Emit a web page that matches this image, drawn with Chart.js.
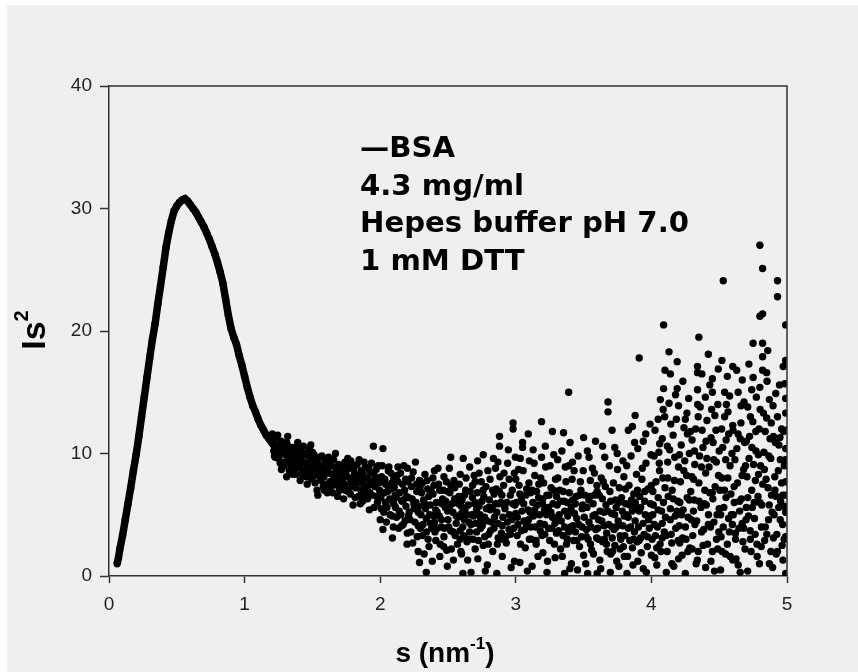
<!DOCTYPE html>
<html>
<head>
<meta charset="utf-8">
<script src="https://cdn.jsdelivr.net/npm/chart.js@4"></script>
<style>
  body { margin: 0; background: #fff; }
  canvas { position: absolute; left: 0; top: 0; }
</style>
</head>
<body>
<canvas id="kratky" width="858" height="672"></canvas>
<script>
// axis ticks
const xTicks = [0, 1, 2, 3, 4, 5];
const yTicks = [0, 10, 20, 30, 40];

const noteLines = ["\u2014BSA", "4.3 mg/ml", "Hepes buffer pH 7.0", "1 mM DTT"];

// smooth part of the curve, s (nm-1) vs Is^2
const curvePoints = [
  [0.06,1.0],[0.07,1.5],[0.08,2.2],[0.10,3.3],[0.12,4.6],[0.14,5.9],[0.16,7.2],[0.18,8.6],
  [0.20,9.9],[0.22,11.4],[0.24,13.0],[0.26,14.6],[0.28,16.2],[0.30,17.8],[0.32,19.3],[0.34,20.6],
  [0.36,22.2],[0.38,23.7],[0.40,25.2],[0.42,26.8],[0.44,28.0],[0.46,29.0],[0.48,29.8],[0.50,30.2],
  [0.52,30.5],[0.54,30.7],[0.56,30.8],[0.58,30.6],[0.60,30.3],[0.62,30.0],[0.64,29.7],[0.66,29.3],
  [0.68,28.9],[0.70,28.5],[0.72,28.0],[0.74,27.5],[0.76,26.9],[0.78,26.3],[0.80,25.6],[0.82,24.8],
  [0.84,23.9],[0.86,22.6],[0.88,21.3],[0.90,20.2],[0.92,19.5],[0.94,18.9],[0.96,18.0],[0.98,17.2],
  [1.00,16.3],[1.02,15.4],[1.04,14.6],[1.06,13.9],[1.08,13.4],[1.10,12.8],[1.12,12.3],[1.14,11.9],
  [1.16,11.5],[1.18,11.2],[1.20,10.9],[1.22,10.6],[1.24,10.3]
];

// noisy band 1.2 - 2.0
const bandPoints = [
  [1.21,10.9],[1.22,9.8],[1.23,11.3],[1.24,10.1],[1.25,9.6],[1.26,10.8],[1.27,11.0],[1.28,9.3],[1.29,10.4],
  [1.30,9.9],[1.31,8.1],[1.31,10.9],[1.32,9.5],[1.33,8.6],[1.34,10.2],[1.35,9.1],[1.36,10.5],[1.37,9.7],
  [1.38,8.3],[1.39,9.9],[1.40,10.5],[1.41,7.8],[1.41,8.9],[1.42,9.4],[1.43,8.2],[1.44,10.0],[1.45,9.2],
  [1.46,8.7],[1.47,9.8],[1.48,8.4],[1.49,9.5],[1.50,10.1],
  [1.51,8.8],[1.52,9.6],[1.52,7.6],[1.53,8.3],[1.54,6.6],[1.55,9.1],[1.56,8.0],[1.57,9.8],[1.58,7.3],
  [1.59,8.6],[1.60,9.3],[1.61,6.8],[1.62,8.4],[1.63,7.7],[1.64,9.0],[1.65,6.8],[1.66,8.1],[1.67,10.0],
  [1.68,7.4],[1.69,8.8],[1.70,7.0],[1.71,8.5],[1.72,7.8],[1.73,6.3],[1.74,9.3],[1.75,8.2],[1.76,7.1],
  [1.77,8.9],[1.78,6.7],[1.79,7.9],[1.80,5.8],[1.81,8.4],[1.82,7.2],[1.83,9.1],[1.84,6.5],[1.85,7.7],
  [1.86,8.6],[1.87,6.1],[1.88,7.4],[1.89,8.9],[1.90,6.9],[1.91,7.9],[1.92,5.4],[1.93,8.4],[1.94,6.6],
  [1.95,10.6],[1.96,7.3],[1.97,8.7],[1.98,6.0],[1.99,7.6],[2.00,4.6],
  [1.205,11.6],[1.215,10.2],[1.226,9.7],[1.233,10.6],[1.244,11.5],[1.252,10.3],[1.263,9.2],[1.271,10.0],
  [1.284,10.7],[1.292,9.0],[1.303,10.3],[1.315,9.3],[1.322,10.6],[1.336,9.8],[1.347,8.9],[1.353,10.0],
  [1.365,9.4],[1.372,8.7],[1.384,10.2],[1.395,9.0],[1.404,9.6],[1.416,10.3],[1.425,8.6],[1.437,9.3],
  [1.446,9.9],[1.455,8.1],[1.467,9.0],[1.476,10.4],[1.485,8.9],[1.494,7.9],
  [1.503,9.0],[1.515,8.2],[1.526,9.2],[1.534,7.0],[1.546,8.6],[1.555,9.7],[1.564,7.8],[1.573,8.9],
  [1.585,8.1],[1.594,9.5],[1.606,7.5],[1.614,8.7],[1.625,9.2],[1.633,7.2],[1.645,8.3],[1.656,9.5],
  [1.664,7.9],[1.675,8.6],[1.686,6.5],[1.694,9.1],
  [1.705,8.0],[1.716,7.4],[1.724,9.0],[1.735,8.1],[1.743,7.0],[1.756,8.7],[1.764,6.9],[1.775,8.0],
  [1.783,9.4],[1.796,7.3],[1.804,8.7],[1.815,6.4],[1.826,8.0],[1.834,7.6],[1.845,9.5],[1.853,5.9],
  [1.866,7.9],[1.874,8.3],[1.885,6.6],[1.896,8.0],
  [1.904,7.2],[1.915,8.7],[1.923,6.8],[1.936,9.2],[1.944,7.7],[1.955,5.6],[1.963,8.1],[1.974,6.5],
  [1.986,9.0],[1.995,7.0],
  [1.512,9.9],[1.538,8.9],[1.561,8.5],[1.588,7.0],[1.619,9.7],[1.641,7.6],[1.668,8.4],[1.692,7.7],
  [1.718,8.8],[1.739,7.5],[1.761,9.6],[1.788,7.6],[1.811,9.0],[1.839,8.1],[1.858,7.0],[1.881,9.3],
  [1.907,6.3],[1.929,7.5],[1.951,8.4],[1.978,7.9],[1.272,8.7],[1.318,11.4],[1.356,8.3],[1.392,10.9],
  [1.433,10.6],[1.462,7.5],[1.488,10.7]
];

// scattered tail 2.0 - 5.0
const tailPoints = [
  [2.01,8.1],[2.02,10.4],[2.02,3.8],[2.03,6.8],[2.04,7.5],[2.05,5.6],[2.06,8.6],[2.07,6.3],[2.08,7.1],
  [2.09,3.1],[2.10,5.9],[2.10,8.0],[2.11,6.6],[2.12,4.8],[2.13,7.7],[2.14,5.3],[2.15,8.4],[2.16,6.1],
  [2.17,4.2],[2.18,7.0],[2.19,5.7],[2.20,3.5],[2.20,8.8],[2.21,6.4],[2.22,4.6],[2.23,7.3],[2.24,2.7],
  [2.25,5.5],[2.26,9.3],[2.27,6.9],[2.28,2.0],[2.28,4.1],[2.29,1.1],[2.29,7.8],[2.30,5.0],
  [2.31,3.3],[2.32,6.2],[2.33,8.3],[2.34,0.3],[2.34,4.7],[2.35,7.1],[2.36,2.4],[2.37,5.8],[2.38,3.9],
  [2.39,6.7],[2.40,8.6],[2.40,4.4],[2.41,2.9],[2.42,5.2],[2.43,7.5],[2.44,1.6],[2.45,4.0],[2.46,6.3],
  [2.47,8.1],[2.47,3.2],[2.48,5.6],[2.49,2.1],[2.50,6.9],[2.50,4.6],
  [2.51,8.8],[2.52,9.7],[2.52,3.7],[2.53,5.9],[2.54,1.3],[2.55,7.2],[2.56,4.3],[2.57,2.6],[2.58,6.5],
  [2.59,8.3],[2.59,3.0],[2.60,5.1],[2.60,1.8],[2.61,0.2],[2.62,4.6],[2.63,7.0],[2.64,2.8],[2.65,5.8],
  [2.66,8.9],[2.66,3.6],[2.67,0.3],[2.68,6.4],[2.69,4.9],[2.70,2.2],[2.70,7.7],
  [2.71,5.4],[2.72,1.4],[2.73,8.4],[2.74,3.9],[2.75,6.1],[2.76,9.9],[2.76,2.5],[2.77,4.8],[2.78,7.3],
  [2.79,0.9],[2.80,5.6],[2.80,3.4],[2.81,7.9],[2.82,4.4],[2.83,2.0],[2.84,6.7],[2.85,8.8],[2.86,0.2],
  [2.86,5.2],[2.87,3.1],[2.88,11.4],[2.88,10.6],[2.89,6.0],[2.90,4.1],[2.90,1.6],
  [2.91,7.4],[2.92,5.5],[2.93,2.7],[2.94,9.2],[2.95,3.8],[2.96,6.6],[2.97,4.6],[2.98,12.5],[2.98,12.0],
  [2.99,1.2],[3.00,7.9],[3.00,5.1],[3.01,3.3],[3.02,8.7],[3.03,1.1],[3.04,6.2],[3.05,10.9],[3.05,10.5],
  [3.06,4.5],[3.07,2.3],[3.08,7.1],[3.09,5.4],[3.10,9.4],[3.10,3.0],
  [3.11,6.8],[3.12,0.8],[3.13,4.9],[3.14,8.2],[3.15,2.6],[3.16,5.8],[3.17,7.5],[3.18,3.7],[3.19,12.6],
  [3.19,9.7],[3.20,1.9],[3.20,6.3],[3.21,4.2],[3.22,8.9],[3.23,0.3],[3.24,5.6],[3.25,2.9],[3.26,7.2],
  [3.27,11.8],[3.27,4.8],[3.28,9.9],[3.29,1.5],[3.30,6.5],[3.30,3.5],
  [3.31,8.0],[3.32,5.0],[3.33,2.2],[3.34,10.2],[3.35,6.9],[3.36,0.2],[3.36,4.0],[3.37,7.7],[3.38,3.0],
  [3.39,15.0],[3.39,9.0],[3.40,10.9],[3.40,5.3],[3.41,1.0],[3.42,6.2],[3.43,8.6],[3.44,3.6],[3.45,4.7],
  [3.46,9.8],[3.47,2.4],[3.48,7.0],[3.49,5.5],[3.50,11.3],[3.50,1.7],
  [3.51,6.6],[3.52,3.2],[3.53,0.2],[3.54,9.7],[3.54,4.4],[3.55,7.8],[3.56,2.1],[3.57,5.9],[3.58,8.4],
  [3.59,3.8],[3.60,0.2],[3.60,6.9],[3.61,4.6],[3.62,1.3],[3.63,8.0],[3.64,10.6],[3.64,2.8],[3.65,5.2],
  [3.66,7.3],[3.67,3.5],[3.68,14.2],[3.68,13.4],[3.69,9.0],[3.70,1.8],[3.70,6.1],
  [3.71,11.9],[3.71,4.0],[3.72,7.6],[3.73,10.5],[3.73,2.5],[3.74,5.6],[3.75,8.7],[3.76,0.8],[3.77,3.3],
  [3.78,6.4],[3.79,9.4],[3.80,4.9],[3.80,1.6],[3.81,7.1],[3.82,0.2],[3.83,11.9],[3.83,3.9],[3.84,5.8],
  [3.85,9.8],[3.86,12.2],[3.86,2.3],[3.87,6.7],[3.88,13.1],[3.88,4.5],[3.89,8.3],[3.90,1.2],[3.90,10.4],
  [3.91,17.8],[3.91,5.3],[3.92,3.1],[3.93,7.9],[3.94,11.0],[3.94,0.6],[3.95,6.1],[3.96,9.2],[3.97,2.4],
  [3.98,4.6],[3.99,12.4],[4.00,7.4],[4.00,1.7],
  [4.01,5.0],[4.02,9.8],[4.03,3.3],[4.04,0.9],[4.05,12.8],[4.05,6.4],[4.06,8.6],[4.07,2.0],[4.08,11.2],
  [4.08,4.3],[4.09,20.5],[4.09,15.3],[4.10,16.8],[4.10,7.2],[4.11,0.3],[4.12,9.3],[4.13,18.3],[4.13,14.1],
  [4.14,16.5],[4.14,5.5],[4.15,2.7],[4.16,11.5],[4.17,7.8],[4.18,3.9],[4.19,17.5],[4.19,15.3],[4.20,13.9],
  [4.20,1.4],[4.20,8.9],[4.21,6.0],[4.22,10.7],[4.23,3.1],[4.24,12.1],[4.25,12.8],[4.25,0.2],[4.26,8.2],
  [4.27,4.8],[4.28,10.0],[4.29,6.9],[4.30,2.2],[4.30,11.1],
  [4.31,5.3],[4.32,9.1],[4.33,1.0],[4.34,17.1],[4.34,16.6],[4.34,15.2],[4.35,19.5],[4.35,7.6],[4.36,13.8],
  [4.37,3.6],[4.38,10.5],[4.39,5.9],[4.40,0.7],[4.40,8.4],[4.41,12.7],[4.42,18.1],[4.42,4.2],[4.43,6.8],
  [4.44,11.3],[4.45,16.1],[4.45,15.0],[4.45,2.0],[4.46,9.5],[4.47,7.3],[4.48,3.0],[4.49,14.0],[4.50,5.5],
  [4.50,10.2],
  [4.51,0.5],[4.52,17.6],[4.52,8.0],[4.53,24.1],[4.53,4.0],[4.54,15.0],[4.54,13.0],[4.55,6.4],[4.56,16.3],
  [4.56,2.6],[4.57,11.6],[4.58,9.0],[4.59,5.0],[4.60,17.1],[4.60,1.3],[4.60,12.3],[4.61,7.3],[4.62,3.5],
  [4.63,10.4],[4.64,15.0],[4.64,0.9],[4.65,6.1],[4.66,12.5],[4.67,16.0],[4.67,4.3],[4.68,8.7],[4.69,2.2],
  [4.70,11.0],[4.70,5.6],
  [4.71,13.8],[4.71,0.4],[4.72,9.6],[4.73,13.0],[4.73,3.0],[4.74,15.2],[4.74,7.0],[4.75,19.0],[4.75,16.2],
  [4.76,4.7],[4.77,11.8],[4.78,1.6],[4.79,8.3],[4.80,27.0],[4.80,21.2],[4.80,15.4],[4.80,6.0],[4.81,2.4],
  [4.82,25.1],[4.82,21.4],[4.82,19.0],[4.82,17.9],[4.82,16.8],[4.83,10.1],[4.84,4.0],[4.85,16.6],[4.85,12.9],
  [4.86,7.2],[4.87,14.4],[4.87,1.0],[4.88,9.6],[4.89,5.2],[4.90,11.4],[4.90,3.1],
  [4.91,8.1],[4.92,6.5],[4.93,24.1],[4.93,22.8],[4.93,13.0],[4.93,2.0],[4.94,10.7],[4.95,4.6],[4.96,12.0],
  [4.96,7.6],[4.97,1.3],[4.98,9.0],[4.98,5.7],[4.99,20.5],[4.99,17.6],[4.99,14.5],[4.99,13.3],[4.99,10.4],
  [4.99,9.5],[4.99,7.7],[4.99,5.2],[4.99,3.2],[4.99,0.2],
  // second pass, 2.0 - 3.0
  [2.005,6.4],[2.015,9.0],[2.026,5.2],[2.034,7.9],[2.046,4.4],[2.055,6.9],[2.064,8.9],[2.073,5.0],[2.085,7.6],
  [2.094,6.0],[2.097,4.0],[2.104,7.2],[2.113,5.6],[2.125,8.2],[2.136,3.9],[2.144,6.8],[2.153,5.0],[2.165,7.5],
  [2.174,9.0],[2.183,4.5],[2.195,6.5],[2.198,2.6],[2.205,7.7],[2.214,5.2],[2.226,3.6],[2.235,6.3],[2.243,8.5],
  [2.256,4.4],[2.264,6.0],[2.273,3.2],[2.285,5.7],[2.294,7.2],[2.296,3.9],[2.305,6.8],[2.316,4.2],[2.324,1.8],
  [2.335,5.5],[2.346,7.8],[2.353,3.0],[2.365,5.0],[2.376,6.9],[2.384,1.2],[2.393,4.9],[2.397,7.4],
  [2.404,3.6],[2.415,6.0],[2.426,8.8],[2.435,4.9],[2.443,2.6],[2.456,5.9],[2.465,7.0],[2.474,3.9],[2.483,6.1],
  [2.495,0.8],[2.497,5.3],[2.505,4.0],[2.514,6.8],[2.525,2.2],[2.536,5.2],[2.544,7.8],[2.553,3.3],[2.565,6.0],
  [2.574,4.8],[2.583,7.5],[2.595,2.0],[2.598,5.7],[2.604,6.2],[2.616,3.3],[2.625,5.4],[2.633,8.0],[2.645,1.3],
  [2.654,4.4],[2.663,6.9],[2.675,5.0],[2.684,3.0],[2.693,8.2],[2.697,5.9],[2.704,4.3],[2.715,6.8],[2.724,2.9],
  [2.736,5.0],[2.745,7.7],[2.753,4.1],[2.764,6.5],[2.775,0.4],[2.783,5.5],[2.794,8.6],[2.797,2.6],
  [2.805,6.2],[2.814,3.7],[2.826,5.6],[2.835,9.6],[2.843,4.8],[2.856,7.1],[2.864,2.6],[2.875,5.9],[2.883,8.1],
  [2.894,3.5],[2.897,6.6],[2.905,4.8],[2.913,8.4],[2.926,3.2],[2.934,6.0],[2.945,10.3],[2.953,5.0],[2.966,0.7],
  [2.974,7.0],[2.985,3.9],[2.993,5.8],[2.997,9.7],
  // second pass, 3.0 - 4.0
  [3.005,6.0],[3.016,4.2],[3.024,7.4],[3.035,2.6],[3.046,5.3],[3.054,8.6],[3.065,3.8],[3.073,6.6],[3.085,0.4],
  [3.094,4.6],[3.097,7.6],[3.092,11.6],[3.105,5.2],[3.114,3.0],[3.126,6.0],[3.135,9.2],[3.144,4.0],[3.153,6.9],
  [3.164,1.6],[3.175,5.0],[3.184,8.0],[3.193,3.3],[3.197,5.9],[3.205,7.6],[3.214,3.4],[3.226,5.0],[3.234,1.2],
  [3.245,6.6],[3.253,9.0],[3.266,3.9],[3.274,5.9],[3.285,2.6],[3.293,7.9],[3.297,4.6],[3.305,5.8],[3.316,3.7],
  [3.324,7.0],[3.335,4.5],[3.343,1.6],[3.356,6.1],[3.365,8.9],[3.374,2.6],[3.383,4.9],[3.395,6.8],[3.398,0.6],
  [3.404,4.0],[3.415,7.9],[3.426,2.9],[3.433,5.1],[3.444,6.5],[3.455,0.5],[3.464,4.2],[3.476,7.7],[3.485,3.2],
  [3.493,5.8],[3.497,8.6],[3.505,4.8],[3.516,1.0],[3.525,5.6],[3.533,3.0],[3.546,6.5],[3.554,4.0],[3.565,8.8],
  [3.573,1.8],[3.584,5.0],[3.596,3.1],[3.598,7.4],[3.604,3.9],[3.615,6.6],[3.626,0.6],[3.634,4.5],[3.645,7.7],
  [3.653,3.0],[3.665,5.8],[3.674,2.0],[3.685,4.2],[3.694,6.9],[3.697,0.3],[3.706,5.1],[3.714,2.0],[3.725,3.8],
  [3.736,6.2],[3.744,1.2],[3.755,4.5],[3.763,7.2],[3.774,3.0],[3.785,5.3],[3.794,2.4],[3.797,8.1],
  [3.804,3.3],[3.816,5.0],[3.824,1.6],[3.835,7.4],[3.846,4.0],[3.853,6.2],[3.864,0.9],[3.875,3.6],[3.886,5.5],
  [3.894,2.8],[3.897,7.0],[3.905,4.0],[3.914,6.5],[3.925,1.9],[3.933,8.8],[3.946,3.4],[3.955,5.0],[3.963,0.3],
  [3.975,7.1],[3.984,3.9],[3.993,5.9],[3.997,9.9],
  // second pass, 4.0 - 5.0
  [4.005,3.0],[4.014,5.8],[4.025,1.5],[4.034,7.7],[4.045,4.0],[4.055,10.1],[4.064,2.6],[4.075,5.3],[4.084,8.0],
  [4.095,3.6],[4.098,13.0],[4.066,14.4],[4.104,4.8],[4.116,2.0],[4.124,6.5],[4.135,10.3],[4.146,3.4],[4.153,7.0],
  [4.165,0.8],[4.176,4.9],[4.184,12.8],[4.195,6.1],[4.198,2.9],[4.172,9.7],[4.205,4.1],[4.214,7.7],[4.226,1.7],
  [4.234,5.4],[4.246,9.4],[4.255,3.0],[4.264,6.4],[4.275,14.5],[4.283,2.3],[4.294,4.6],[4.298,8.1],[4.266,11.6],
  [4.305,3.3],[4.316,6.2],[4.326,12.0],[4.334,4.5],[4.345,2.0],[4.355,9.8],[4.366,5.6],[4.374,11.9],[4.386,3.8],
  [4.394,7.0],[4.398,14.6],[4.345,13.0],[4.405,5.8],[4.414,2.6],[4.425,8.9],[4.436,4.0],[4.444,13.6],[4.453,6.3],
  [4.465,0.4],[4.476,11.9],[4.484,5.0],[4.495,8.2],[4.497,3.6],[4.455,10.9],[4.505,7.0],[4.514,3.2],[4.526,10.5],
  [4.534,5.6],[4.546,1.8],[4.553,14.0],[4.564,8.0],[4.575,3.6],[4.586,6.7],[4.594,10.0],[4.597,4.2],[4.565,13.4],
  [4.604,5.0],[4.616,9.5],[4.624,1.4],[4.635,7.6],[4.646,3.9],[4.655,11.2],[4.664,6.3],[4.675,2.8],[4.683,14.2],
  [4.694,9.0],[4.698,4.6],[4.655,0.3],[4.705,8.1],[4.716,4.9],[4.724,11.4],[4.735,2.0],[4.744,5.6],[4.753,9.1],
  [4.765,3.4],[4.774,14.6],[4.786,6.5],[4.794,12.0],[4.797,1.0],[4.767,7.8],[4.805,9.0],[4.814,5.8],[4.826,13.3],
  [4.835,2.9],[4.846,7.9],[4.853,15.9],[4.864,4.6],[4.875,11.2],[4.886,6.6],[4.894,0.7],[4.897,13.9],[4.866,9.8],
  [4.905,5.0],[4.914,10.9],[4.925,3.4],[4.936,8.6],[4.945,15.6],[4.953,6.1],[4.964,2.5],[4.975,11.8],[4.984,15.7],
  [4.993,6.6],[4.997,11.9],[4.968,4.2],
  // third pass
  [2.008,5.5],[2.038,6.0],[2.061,7.2],[2.079,8.4],[2.089,4.9],[2.118,6.4],[2.131,8.9],[2.158,4.1],[2.171,6.2],
  [2.188,7.9],[2.209,4.9],[2.231,8.0],[2.248,5.9],[2.268,7.5],[2.281,5.2],[2.311,7.6],[2.329,5.9],[2.341,3.6],
  [2.358,6.5],[2.371,4.3],[2.389,8.0],[2.409,5.4],[2.421,3.9],[2.439,7.0],[2.452,4.6],[2.468,2.4],[2.488,7.7],
  [2.509,5.6],[2.521,7.4],[2.539,3.6],[2.549,6.3],[2.561,4.9],[2.579,5.9],[2.589,3.7],
  [2.609,4.0],[2.621,6.6],[2.638,5.0],[2.651,3.0],[2.669,4.2],[2.681,7.4],[2.702,6.0],[2.711,3.6],[2.729,5.7],
  [2.741,4.6],[2.759,7.0],[2.771,3.2],[2.789,4.5],[2.811,5.4],[2.829,7.0],[2.839,3.9],[2.851,5.9],[2.869,4.3],
  [2.879,6.9],[2.901,3.0],[2.917,5.7],[2.939,4.4],[2.951,7.9],[2.961,3.4],[2.979,5.9],[2.989,8.4],
  [3.011,4.8],[3.029,6.7],[3.041,3.7],[3.058,5.9],[3.079,4.1],[3.089,6.9],[3.109,4.0],[3.121,7.0],[3.139,5.4],
  [3.149,2.9],[3.168,6.4],[3.179,4.3],[3.211,5.4],[3.229,6.6],[3.241,3.9],[3.259,5.2],[3.279,7.0],[3.289,4.3],
  [3.311,4.8],[3.329,6.1],[3.348,3.3],[3.361,5.3],[3.379,6.0],[3.389,3.6],[3.409,5.6],[3.421,4.1],[3.439,5.9],
  [3.451,2.9],[3.469,6.6],[3.489,4.0],
  [3.509,5.6],[3.521,3.8],[3.539,6.2],[3.551,2.6],[3.569,4.9],[3.579,6.6],[3.611,3.0],[3.621,5.3],[3.639,6.3],
  [3.651,4.1],[3.669,2.6],[3.679,5.3],[3.711,3.1],[3.729,5.0],[3.741,4.0],[3.759,6.0],[3.769,2.2],[3.789,4.1],
  [3.809,5.9],[3.829,4.8],[3.841,2.9],[3.859,5.3],[3.869,3.0],[3.881,6.0],[3.909,2.9],[3.921,5.6],[3.939,4.3],
  [3.951,6.9],[3.971,3.2],[3.989,4.9],
  [4.011,6.9],[4.021,4.2],[4.039,2.3],[4.049,5.4],[4.061,10.8],[4.079,3.1],[4.089,6.0],[4.109,3.3],[4.121,8.0],
  [4.139,4.6],[4.151,1.0],[4.161,6.3],[4.189,5.3],[4.209,2.7],[4.221,5.0],[4.239,8.6],[4.251,4.0],[4.269,2.0],
  [4.279,6.2],[4.311,7.9],[4.321,4.2],[4.339,1.3],[4.351,6.1],[4.369,8.9],[4.381,2.5],[4.409,9.6],[4.421,5.0],
  [4.439,1.2],[4.449,6.8],[4.461,4.4],[4.479,9.3],[4.489,2.2],[4.511,5.0],[4.521,2.0],[4.539,7.0],[4.551,11.1],
  [4.569,4.7],[4.581,1.6],[4.611,6.0],[4.621,3.0],[4.639,11.6],[4.651,5.3],[4.669,8.2],[4.681,3.9],[4.711,6.4],
  [4.729,3.7],[4.741,10.5],[4.759,6.0],[4.779,2.6],[4.789,9.9],[4.811,4.0],[4.821,7.5],[4.839,11.8],[4.851,3.4],
  [4.869,5.8],[4.881,2.0],[4.911,7.0],[4.921,1.8],[4.939,5.6],[4.951,9.5],[4.969,6.6],[4.979,3.0],
  // upper scatter
  [4.027,11.9],[4.058,9.2],[4.087,13.6],[4.118,10.6],[4.143,12.4],[4.178,14.8],[4.207,9.9],[4.232,15.9],
  [4.262,13.3],[4.288,11.8],[4.318,10.2],[4.341,14.0],[4.372,16.5],[4.403,11.0],[4.431,15.6],[4.468,13.1],
  [4.493,16.9],[4.518,12.0],[4.548,9.5],[4.577,14.7],[4.602,11.9],[4.629,16.8],[4.661,13.9],[4.688,10.9],
  [4.719,17.3],[4.748,12.6],[4.771,10.2],[4.802,13.6],[4.833,8.7],[4.858,18.4],[4.884,12.5],[4.917,14.9],
  [4.948,11.3],[4.972,17.1],
  [3.033,9.6],[3.128,10.3],[3.218,10.6],[3.309,9.5],[3.352,11.7],[3.418,9.3],[3.528,10.2],[3.588,11.0],
  [3.656,9.7],[3.748,10.0],[3.818,9.0],[3.876,10.9],[3.958,11.6],[2.868,9.3],[2.718,9.4],[2.612,9.6]
];

const toXY = (pts) => pts.map(p => ({ x: p[0], y: p[1] }));

// background, box edges, note and axis titles
const decorations = {
    id: "decorations",
    beforeDraw(chart) {
        const ctx = chart.ctx;
        ctx.save();
        ctx.fillStyle = "#ffffff";
        ctx.fillRect(0, 0, chart.width, chart.height);
        ctx.fillStyle = "#efefef";
        ctx.fillRect(7, 5, chart.width - 7, chart.height - 5);
        ctx.restore();
    },
    afterDraw(chart) {
        const ctx = chart.ctx;
        const a = chart.chartArea;
        ctx.save();
        // top and right sides of the frame
        ctx.strokeStyle = "#333";
        ctx.lineWidth = 1.5;
        ctx.beginPath();
        ctx.moveTo(a.left, a.top);
        ctx.lineTo(a.right, a.top);
        ctx.lineTo(a.right, a.bottom);
        ctx.stroke();

        // note block
        ctx.fillStyle = "#000";
        ctx.font = 'bold 29px "DejaVu Sans"';
        ctx.textBaseline = "alphabetic";
        const sx = 329 / ctx.measureText(noteLines[2]).width;
        noteLines.forEach((t, i) => {
            ctx.save();
            ctx.translate(a.left + 251, a.top + 71 + i * 37.5);
            ctx.scale(sx, 1);
            ctx.fillText(t, 0, 0);
            ctx.restore();
        });

        // x title: s (nm-1)
        let big = 'bold 28px "Liberation Sans"';
        let sup = 'bold 17px "Liberation Sans"';
        ctx.font = big;
        const w1 = ctx.measureText("s (nm").width;
        const w3 = ctx.measureText(")").width;
        ctx.font = sup;
        const w2 = ctx.measureText("-1").width;
        let x = (a.left + a.right) / 2 - (w1 + w2 + w3) / 2 - 3;
        const yb = a.bottom + 86;
        ctx.font = big;
        ctx.fillText("s (nm", x, yb);
        ctx.font = sup;
        ctx.fillText("-1", x + w1, yb - 13);
        ctx.font = big;
        ctx.fillText(")", x + w1 + w2, yb);

        // y title: Is2
        big = 'bold 34px "Liberation Sans"';
        sup = 'bold 20px "Liberation Sans"';
        ctx.translate(45, 330);
        ctx.rotate(-Math.PI / 2);
        ctx.font = big;
        const v1 = ctx.measureText("Is").width;
        ctx.font = sup;
        const v2 = ctx.measureText("2").width;
        ctx.font = big;
        ctx.fillText("Is", -(v1 + v2) / 2, 0);
        ctx.font = sup;
        ctx.fillText("2", -(v1 + v2) / 2 + v1, -17);
        ctx.restore();
    }
};

const tickFont = { family: "Liberation Sans", size: 19 };

new Chart(document.getElementById("kratky"), {
    type: "scatter",
    data: {
        datasets: [
            {
                data: toXY(tailPoints),
                backgroundColor: "#000",
                borderWidth: 0,
                pointRadius: 3.7
            },
            {
                data: toXY(bandPoints),
                backgroundColor: "#000",
                borderWidth: 0,
                pointRadius: 3.7
            },
            {
                data: toXY(curvePoints),
                showLine: true,
                borderColor: "#000",
                borderWidth: 7.5,
                backgroundColor: "#000",
                pointRadius: 3.7,
                pointBorderWidth: 0
            }
        ]
    },
    options: {
        responsive: false,
        animation: false,
        events: [],
        layout: { padding: { left: 0, top: 86, right: 71, bottom: 0 } },
        plugins: {
            legend: { display: false },
            tooltip: { enabled: false }
        },
        scales: {
            x: {
                type: "linear",
                min: xTicks[0],
                max: xTicks[xTicks.length - 1],
                afterBuildTicks: (s) => { s.ticks = xTicks.map(v => ({ value: v })); },
                afterFit: (s) => { s.height = 96; },
                border: { display: true, color: "#333", width: 1.5 },
                grid: { drawOnChartArea: false, drawTicks: true, tickLength: 7, tickColor: "#333", tickWidth: 1.5 },
                ticks: { color: "#222", font: tickFont, padding: 10, maxRotation: 0 }
            },
            y: {
                type: "linear",
                min: yTicks[0],
                max: yTicks[yTicks.length - 1],
                afterBuildTicks: (s) => { s.ticks = yTicks.map(v => ({ value: v })); },
                afterFit: (s) => { s.width = 109; },
                border: { display: true, color: "#333", width: 1.5 },
                grid: { drawOnChartArea: false, drawTicks: true, tickLength: 9, tickColor: "#333", tickWidth: 1.5 },
                ticks: { color: "#222", font: tickFont, padding: 8 }
            }
        }
    },
    plugins: [decorations]
});
</script>
</body>
</html>
